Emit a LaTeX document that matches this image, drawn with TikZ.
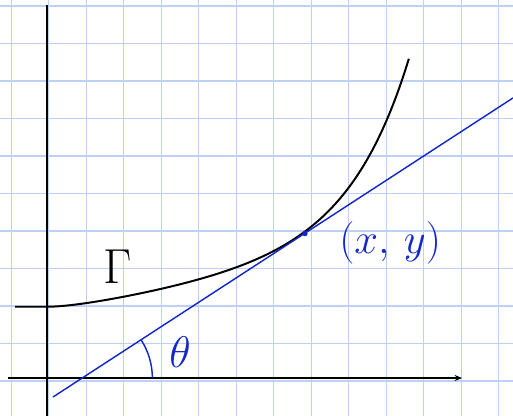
\documentclass[tikz,border=0pt]{standalone}
\usepackage{amsmath}
\usepackage{xcolor}
\usepackage{graphicx}
\usepackage{tikz}
\usetikzlibrary{arrows.meta, positioning, calc}
\definecolor{paperblue}{RGB}{190,208,245}
\definecolor{penblue}{RGB}{20,40,200}
\def\ang{33}
\def\arcR{1.87}

\begin{document}
\begin{tikzpicture}[
    axis/.style={line width=1.6pt, black},
    curve/.style={line width=1.5pt, black},
    tangent/.style={line width=1.1pt, penblue},
    lbl/.style={font=\Huge}
]
\useasboundingbox (-1.253,-1.013) rectangle (12.427,10.08);
% graph paper
\foreach \i in {0,...,13}
  \draw[paperblue, line width=0.8pt] ({-0.95+\i},-1.013) -- ({-0.95+\i},10.08);
\foreach \j in {-1,...,10}
  \draw[paperblue, line width=0.8pt] (-1.253,{-0.08+\j}) -- (12.427,{-0.08+\j});

% axes
\coordinate (xs) at (-1.04,0);
\coordinate (xe) at (11.07,0);
\coordinate (ys) at (0,-1.01);
\coordinate (ye) at (0,9.95);
\draw[axis, -{Stealth[length=2mm,width=1.6mm]}] (xs) -- (xe);
\draw[axis] (ys) -- (ye);

% the curve
\draw[curve, line join=round] (-0.85,1.9) -- (0,1.9)
  plot[domain=0:9.65, samples=80, smooth]
  (\x, {1.9 + 0.2*\x*\x/(\x+1.5) + 0.0125*(exp(0.62*\x)-1)});

% tangent line and point
\coordinate (ta) at (0.16,-0.507);
\coordinate (tb) at (12.43,7.47);
\coordinate (base) at (0.94,0);
\draw[tangent] (ta) -- (tb);
\fill[penblue] (6.88,3.85) circle (0.07);
\draw[tangent] ($(base)+(\arcR,0)$) arc[start angle=0, end angle=\ang, radius=\arcR];

\node[lbl, penblue] (theta) at (3.55,0.69) {\scalebox{1.35}{$\theta$}};
\node[lbl] (gam) at (1.89,2.96) {\scalebox{1.5}{$\Gamma$}};
\node[lbl, penblue] (pt) at (9.15,3.6) {\scalebox{1.3}{$(x,\,y)$}};
\end{tikzpicture}
\end{document}
